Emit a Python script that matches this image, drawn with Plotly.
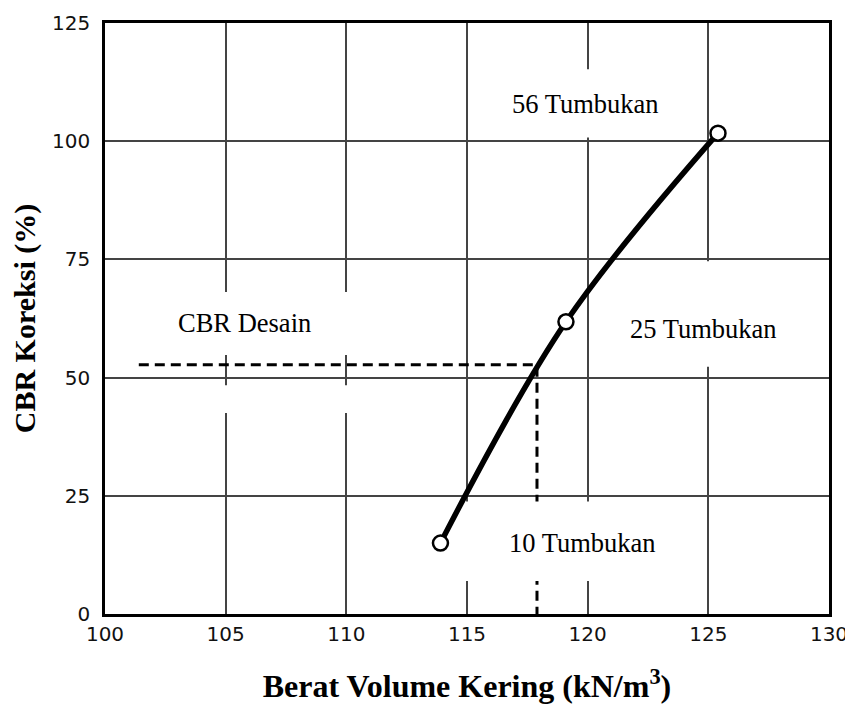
import plotly.graph_objects as go

# Data
berat_volume = [113.9, 119.1, 125.4]   # kN/m3
cbr_koreksi = [15.0, 61.8, 101.7]      # %
design_x = [101.4, 117.9, 117.9]
design_y = [52.7, 52.7, 0]
x_ticks = [100, 105, 110, 115, 120, 125, 130]
y_ticks = [0, 25, 50, 75, 100, 125]
labels = ["56 Tumbukan", "25 Tumbukan", "10 Tumbukan", "CBR Desain"]
label_x = [119.9, 124.8, 119.8, 105.8]
label_y = [107.9, 60.3, 15.0, 61.5]

fig = go.Figure()

fig.add_trace(go.Scatter(
    x=design_x, y=design_y, mode="lines",
    line=dict(color="black", width=3, dash="10px,6px"),
    hoverinfo="skip", showlegend=False))

fig.add_trace(go.Scatter(
    x=berat_volume, y=cbr_koreksi, mode="lines+markers",
    line=dict(color="black", width=5.5, shape="spline", smoothing=1),
    marker=dict(symbol="circle", size=15, color="white",
                line=dict(color="black", width=2.5)),
    showlegend=False))

# white masks behind labels (hide grid lines like the reference)
masks = [
    (115.3, 124.7, 100.8, 115.2, "between"),
    (120.4, 129.7, 52.3, 74.6, "between"),
    (114.95, 124.5, 7.0, 23.8, "above"),
    (101.0, 111.8, 54.8, 68.1, "between"),
    (101.0, 111.8, 42.5, 48.4, "between"),
]
for x0, x1, y0, y1, layer in masks:
    fig.add_shape(type="rect", xref="x", yref="y", x0=x0, x1=x1, y0=y0, y1=y1,
                  fillcolor="white", line=dict(width=0), layer=layer)

for t, xx, yy in zip(labels, label_x, label_y):
    fig.add_annotation(x=xx, y=yy, text=t, showarrow=False,
                       font=dict(family="Liberation Serif", size=26.5, color="black"))

fig.update_layout(
    width=845, height=696,
    margin=dict(l=97, r=24, t=15, b=90),
    paper_bgcolor="white", plot_bgcolor="white",
    showlegend=False,
    xaxis=dict(
        range=[100, 130], tickvals=x_ticks, ticktext=[str(v) for v in x_ticks],
        showgrid=True, gridcolor="#444", gridwidth=1.5,
        showline=True, linecolor="black", linewidth=2.5, mirror=True,
        ticks="", ticklen=0, ticklabeloverflow="allow",
        tickfont=dict(family="DejaVu Sans", size=20, color="#111"),
        zeroline=False, automargin=False,
        title=dict(text="<b>Berat Volume Kering (kN/m<sup>3</sup>)</b>", standoff=32,
                   font=dict(family="Liberation Serif", size=32, color="black")),
    ),
    yaxis=dict(
        range=[0, 125], tickvals=y_ticks, ticktext=[str(v) for v in y_ticks],
        showgrid=True, gridcolor="#444", gridwidth=1.5,
        showline=True, linecolor="black", linewidth=2.5, mirror=True,
        ticks="outside", ticklen=8, tickcolor="rgba(0,0,0,0)",
        tickfont=dict(family="DejaVu Sans", size=20, color="#111"),
        zeroline=False, automargin=False,
        title=dict(text="<b>CBR Koreksi (%)</b>", standoff=8,
                   font=dict(family="Liberation Serif", size=30, color="black")),
    ),
)

fig.write_html("out.html")
